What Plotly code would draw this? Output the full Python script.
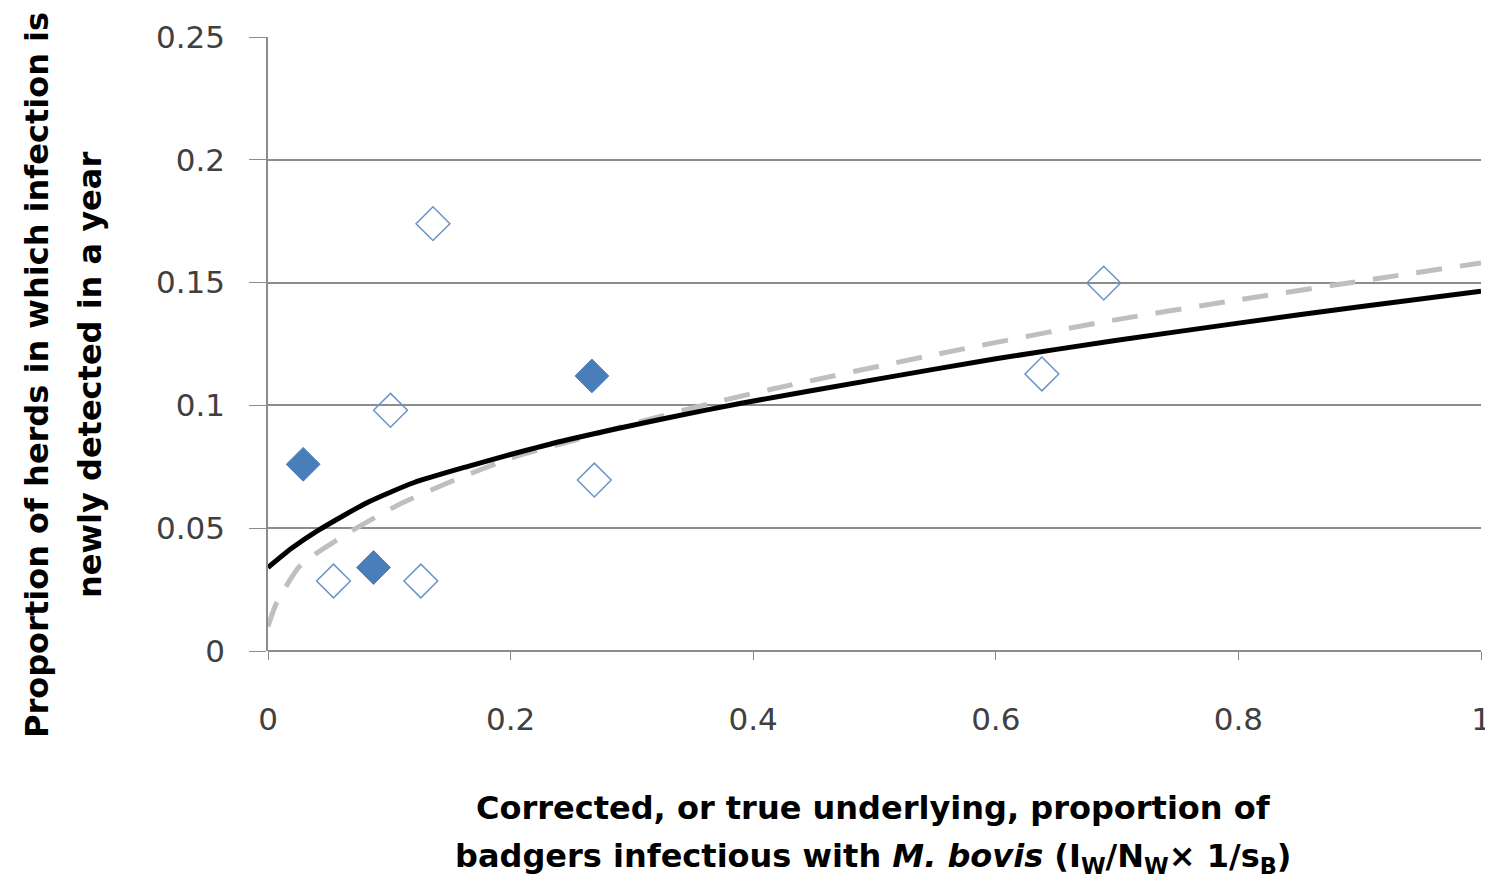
import plotly.graph_objects as go

# Observed data: filled diamonds
filled_x = [0.029, 0.087, 0.267]
filled_y = [0.076, 0.034, 0.112]

# Observed data: open diamonds
open_x = [0.136, 0.101, 0.054, 0.126, 0.269, 0.638, 0.689]
open_y = [0.174, 0.098, 0.0285, 0.0285, 0.0696, 0.1128, 0.1498]

# Solid black fitted curve
solid_x = [0, 0.02, 0.041, 0.082, 0.12, 0.165, 0.2, 0.247, 0.33, 0.389, 0.5, 0.6, 0.7, 0.8, 0.9, 1.0]
solid_y = [0.034, 0.042, 0.049, 0.0605, 0.0685, 0.0752, 0.0800, 0.0860, 0.0950, 0.1008, 0.1105, 0.1190, 0.1265, 0.1335, 0.1402, 0.1465]

# Dashed grey fitted curve
dash_x = [0, 0.007, 0.027, 0.066, 0.107, 0.148, 0.2, 0.25, 0.3, 0.368, 0.414, 0.548, 0.683, 0.8, 0.906, 1.0]
dash_y = [0.010, 0.0195, 0.035, 0.048, 0.0594, 0.0684, 0.0785, 0.0855, 0.0925, 0.1012, 0.1065, 0.1205, 0.1335, 0.1430, 0.1510, 0.158]

x_ticks = [0, 0.2, 0.4, 0.6, 0.8, 1]
x_tick_labels = ["0", "0.2", "0.4", "0.6", "0.8", "1"]
y_ticks = [0, 0.05, 0.1, 0.15, 0.2, 0.25]
y_tick_labels = ["0", "0.05", "0.1", "0.15", "0.2", "0.25"]

x_title_lines = ["Corrected, or true underlying, proportion of",
                 "badgers infectious with <i>M. bovis</i> (I<sub>W</sub>/N<sub>W</sub>× 1/s<sub>B</sub>)"]
y_title_lines = ["Proportion of herds in which infection is",
                 "newly detected in a year"]

fig = go.Figure()

fig.add_trace(go.Scatter(
    x=dash_x, y=dash_y, mode="lines", line_shape="spline",
    line=dict(color="#bfbfbf", width=5, dash="26px,18px", smoothing=0.6),
    showlegend=False, hoverinfo="skip"))

fig.add_trace(go.Scatter(
    x=solid_x, y=solid_y, mode="lines", line_shape="spline",
    line=dict(color="#000000", width=5, smoothing=0.6),
    showlegend=False, hoverinfo="skip"))

fig.add_trace(go.Scatter(
    x=open_x, y=open_y, mode="markers",
    marker=dict(symbol="diamond", size=26, color="rgba(255,255,255,0)",
                line=dict(color="#6a93c9", width=1.5)),
    showlegend=False))

fig.add_trace(go.Scatter(
    x=filled_x, y=filled_y, mode="markers",
    marker=dict(symbol="diamond", size=26, color="#4a7ebb",
                line=dict(color="#4a7ebb", width=1)),
    showlegend=False))

tick_font = dict(family="DejaVu Sans", size=31, color="#404040")
title_font = dict(family="DejaVu Sans", size=32, color="#000000", weight="bold")

# page body adds an 8px offset; target plot area in page pixels:
OFF = 8
PL, PR, PT, PB = 268, 1481, 37, 651
W, H = 1493 - OFF, 884 - OFF

def px_to_paper_x(px):
    return (px - PL) / (PR - PL)
def px_to_paper_y(py):
    return (PB - py) / (PB - PT)

annotations = []
for line, cy in zip(x_title_lines, [808, 858]):
    annotations.append(dict(
        text=line, xref="paper", yref="paper",
        x=px_to_paper_x(873), y=px_to_paper_y(cy),
        xanchor="center", yanchor="middle", showarrow=False, font=title_font))
for line, cx in zip(y_title_lines, [37, 90]):
    annotations.append(dict(
        text=line, xref="paper", yref="paper",
        x=px_to_paper_x(cx), y=px_to_paper_y(375),
        xanchor="center", yanchor="middle", textangle=-90,
        showarrow=False, font=title_font))

fig.update_layout(
    width=W, height=H,
    margin=dict(l=PL - OFF, r=1493 - PR, t=PT - OFF, b=884 - PB),
    paper_bgcolor="white", plot_bgcolor="white",
    annotations=annotations,
    xaxis=dict(
        range=[0, 1], tickvals=x_ticks, ticktext=x_tick_labels,
        showgrid=False, zeroline=False, automargin=False,
        showline=False, ticks="outside", ticklen=8, tickcolor="#888888",
        tickfont=tick_font, ticklabelstandoff=33,
    ),
    yaxis=dict(
        range=[0, 0.25], tickvals=y_ticks, ticktext=y_tick_labels,
        automargin=False,
        showgrid=True, gridcolor="#8c8c8c", gridwidth=1.5,
        zeroline=True, zerolinecolor="#8c8c8c", zerolinewidth=1.5,
        showline=True, linecolor="#8c8c8c", linewidth=1.5,
        ticks="outside", ticklen=17, tickcolor="#8c8c8c",
        tickfont=tick_font, ticklabelstandoff=18,
    ),
)

fig.write_html("out.html")
